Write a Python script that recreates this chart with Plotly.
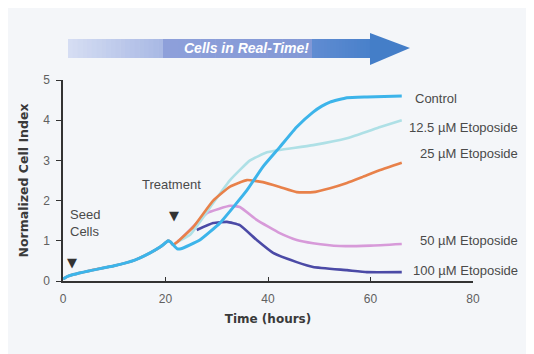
import plotly.graph_objects as go

# ---- data ----
t_pre = [0, 1, 2, 5, 10, 14, 17, 19, 20, 20.5, 21, 21.5]
v_pre = [0.05, 0.12, 0.16, 0.25, 0.38, 0.52, 0.70, 0.85, 0.95, 1.00, 0.97, 0.90]

ctrl_t = [22.3, 23, 26.7, 30.6, 35.9, 39, 42.3, 45.6, 48.8, 50.5, 52.1, 55.4, 59.3, 66.1]
ctrl_v = [0.80, 0.80, 1.02, 1.44, 2.26, 2.84, 3.33, 3.83, 4.20, 4.35, 4.45, 4.56, 4.58, 4.60]

e125_t = [22.3, 24.8, 29.3, 32.6, 36.5, 39.8, 42.3, 48.8, 55.4, 61.9, 66.1]
e125_v = [0.97, 1.15, 1.94, 2.51, 3.00, 3.20, 3.26, 3.38, 3.55, 3.83, 4.00]

e25_t = [22.3, 25.4, 29.3, 32.6, 35.9, 39, 42.3, 45.6, 48.8, 52.1, 55.4, 58.5, 61.9, 66.1]
e25_v = [0.97, 1.34, 2.00, 2.35, 2.51, 2.46, 2.34, 2.21, 2.21, 2.31, 2.44, 2.59, 2.76, 2.94]

e50_t = [22.3, 25, 28.1, 32.6, 34.5, 37.8, 42.3, 45.6, 48.8, 54, 60, 66.1]
e50_v = [0.97, 1.30, 1.69, 1.87, 1.84, 1.52, 1.19, 1.02, 0.94, 0.87, 0.88, 0.92]

e100_t = [26.1, 29.3, 32, 34.5, 37.8, 41, 45.6, 48.8, 55.4, 59.3, 66.1]
e100_v = [1.27, 1.44, 1.47, 1.39, 1.02, 0.70, 0.47, 0.35, 0.27, 0.22, 0.22]

series_names = ["100 µM Etoposide", "50 µM Etoposide", "12.5 µM Etoposide",
                "25 µM Etoposide", "Control"]
label_y = {"Control": 4.55, "12.5 µM Etoposide": 3.83, "25 µM Etoposide": 3.18,
           "50 µM Etoposide": 1.02, "100 µM Etoposide": 0.27}

colors = {"Control": "#3cb4ea", "12.5 µM Etoposide": "#aee0e6",
          "25 µM Etoposide": "#e8814a", "50 µM Etoposide": "#d79ad9",
          "100 µM Etoposide": "#4b4aa6"}

data = {
    "100 µM Etoposide": (e100_t, e100_v, False),
    "50 µM Etoposide": (e50_t, e50_v, True),
    "12.5 µM Etoposide": (e125_t, e125_v, True),
    "25 µM Etoposide": (e25_t, e25_v, True),
    "Control": (ctrl_t, ctrl_v, True),
}

fig = go.Figure()
for name in series_names:
    tt, vv, with_pre = data[name]
    if with_pre:
        if name == "Control":
            xs = t_pre[:-1] + [21.0] + tt
            ys = v_pre[:-1] + [0.97] + vv
        else:
            xs = t_pre + tt
            ys = v_pre + vv
    else:
        xs, ys = tt, vv
    fig.add_trace(go.Scatter(x=xs, y=ys, mode="lines", name=name,
                             line=dict(color=colors[name], width=3 if name == "Control" else 2.6,
                                       shape="spline", smoothing=0.4),
                             showlegend=False, hoverinfo="skip"))

font = "Liberation Sans, Arial, sans-serif"
bold_font = "DejaVu Sans, sans-serif"
lab_col = "#4a4a4a"
annotations = []
for name in series_names:
    if name == "Control":
        annotations.append(dict(x=(413 - 63) / 410, xref="paper", y=label_y[name], yref="y",
                                text=name, showarrow=False, xanchor="left", yanchor="middle",
                                font=dict(size=13, color=lab_col, family=font)))
    else:
        annotations.append(dict(x=(520 - 63) / 410, xref="paper", y=label_y[name], yref="y",
                                text=name, showarrow=False, xanchor="right", yanchor="middle",
                                font=dict(size=13, color=lab_col, family=font)))

annotations += [
    dict(x=21.1, y=2.39, text="Treatment", showarrow=False,
         font=dict(size=13, color=lab_col, family=font)),
    dict(x=21.6, y=1.62, text="▼", showarrow=False,
         font=dict(size=13, color="#333", family="DejaVu Sans")),
    dict(x=1.0, y=1.44, text="Seed<br>Cells", showarrow=False, xanchor="left", align="left",
         font=dict(size=13, color=lab_col, family=font)),
    dict(x=1.75, y=0.47, text="▼", showarrow=False,
         font=dict(size=13, color="#333", family="DejaVu Sans")),
    dict(x=(246 - 63) / 410, xref="paper", y=(281 - 48) / 201, yref="paper",
         xanchor="center", yanchor="middle",
         text="<b><i>Cells in Real-Time!</i></b>", showarrow=False,
         font=dict(size=14, color="white", family=font)),
]

# ---- top arrow (decorative) ----
def px(x):
    return (x - 63) / 410

def py(y):
    return (281 - y) / 201

def lerp(c1, c2, f):
    return tuple(int(round(a + (b - a) * f)) for a, b in zip(c1, c2))

shapes = []
segs = [(68, 163, (214, 222, 243), (168, 184, 228)),
        (163, 312, (142, 160, 218), (130, 152, 214)),
        (312, 372, (96, 140, 210), (72, 128, 202))]
for x0, x1, c0, c1 in segs:
    n = 20
    for i in range(n):
        a = x0 + (x1 - x0) * i / n
        b = x0 + (x1 - x0) * (i + 1) / n + 0.6
        c = lerp(c0, c1, (i + 0.5) / n)
        shapes.append(dict(type="rect", xref="paper", yref="paper",
                           x0=px(a), x1=px(b), y0=py(58), y1=py(39),
                           fillcolor="rgb(%d,%d,%d)" % c, line=dict(width=0), layer="below"))
shapes.append(dict(type="path", xref="paper", yref="paper",
                   path="M %f %f L %f %f L %f %f Z" % (px(370), py(33), px(410), py(48), px(370), py(65)),
                   fillcolor="rgb(68,126,200)", line=dict(width=0)))

bg = "#f4f6f9"
# page body has an 8px margin, so the figure is offset by (8, 8)
fig.update_layout(
    width=534, height=354,
    margin=dict(l=55, r=69, t=72, b=81),
    paper_bgcolor=bg, plot_bgcolor=bg,
    font=dict(family=font, size=12, color="#555"),
    annotations=annotations, shapes=shapes,
    xaxis=dict(range=[0, 80], tickvals=[0, 20, 40, 60, 80], showgrid=False, zeroline=False,
               showline=True, linecolor="#333", linewidth=1.5, ticks="inside", ticklen=4,
               tickcolor="#333", tickfont=dict(size=12, color="#606060"), ticklabelstandoff=6,
               title=dict(text="<b>Time (hours)</b>", standoff=9,
                          font=dict(size=12, color="#3a3a3a", family=bold_font))),
    yaxis=dict(range=[0, 5], tickvals=[0, 1, 2, 3, 4, 5], showgrid=False, zeroline=False,
               showline=True, linecolor="#333", linewidth=1.5, ticks="outside", ticklen=5,
               tickcolor="#333", tickfont=dict(size=12, color="#606060"), ticklabelstandoff=4,
               title=dict(text="<b>Normalized Cell Index</b>", standoff=12,
                          font=dict(size=12.5, color="#3a3a3a", family=bold_font))),
)

fig.write_html("out.html")
